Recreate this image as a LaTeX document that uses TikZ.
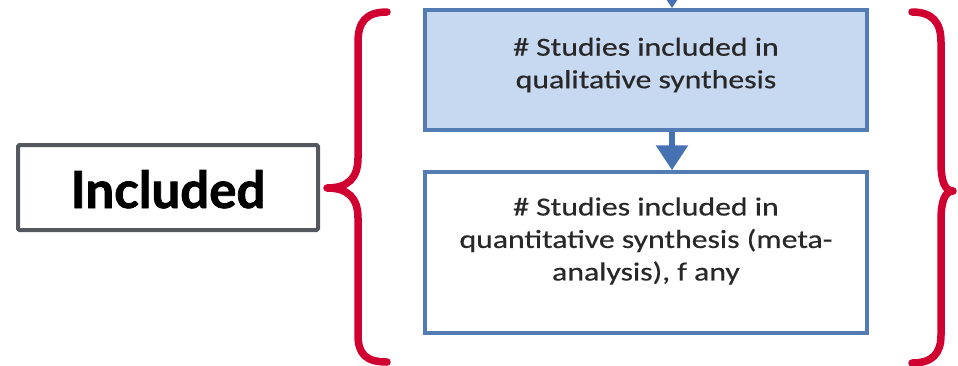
\documentclass[tikz,border=0pt]{standalone}
\usepackage{fontspec}
\usetikzlibrary{arrows.meta}
\newfontfamily\labelfont[FakeBold=1.5]{Lato}
\newfontfamily\boxfont[FakeStretch=1.22,FakeBold=0.5]{Carlito}
\definecolor{bracered}{RGB}{208,0,48}
\definecolor{boxblue}{RGB}{84,124,180}
\definecolor{boxfill}{RGB}{198,217,241}
\definecolor{arrowblue}{RGB}{70,114,180}
\definecolor{framegray}{RGB}{85,88,94}
\definecolor{textgray}{RGB}{40,40,40}
\tikzset{
  flowbox/.style={draw=boxblue, line width=3.5pt, inner sep=0pt},
  boxtext/.style={font=\boxfont\fontsize{26}{32.5}\selectfont, text=textgray, align=center, inner sep=0pt},
  flowarrow/.style={draw=arrowblue, line width=6pt, -{Triangle[width=31pt,length=25pt]}},
  brace/.style={draw=bracered, line width=7.5pt, line cap=round, line join=round},
  labelbox/.style={draw=framegray, line width=4pt, rounded corners=1.5pt, fill=white, inner sep=0pt},
}
\begin{document}
\begin{tikzpicture}[x=1pt,y=-1pt]
\useasboundingbox (0,0) rectangle (958,365);
\clip (0,0) rectangle (958,365);
% flow boxes
\node[flowbox, fill=boxfill, minimum width=442pt, minimum height=120pt] (qual) at (646,70) {};
\node[flowbox, fill=white, minimum width=442pt, minimum height=161pt] (quant) at (646,252.5) {};
\node[boxtext] (qualtext) at (646,65) {\# Studies included in\\qualitative synthesis};
\node[boxtext] (quanttext) at (646,241) {\# Studies included in\\quantitative synthesis (meta-\\analysis), f any};
% arrows
\coordinate (topin) at (672,-30);
\draw[flowarrow] (topin) -- (topin |- qual.north);
\draw[flowarrow] (qual.south -| topin) -- (quant.north -| topin);
% label box
\node[labelbox, minimum width=300pt, minimum height=85pt] (incl) at (168,187.5) {};
\node[font=\labelfont\bfseries\fontsize{51}{51}\selectfont, inner sep=0pt, anchor=base] (incltext) at (168,208) {Included};
% braces
\draw[brace] (387,12) .. controls (366,12) and (358,22) .. (358,42) -- (358,158)
  .. controls (358,178) and (348,188) .. (327,188)
  .. controls (348,188) and (358,198) .. (358,218) -- (358,335)
  .. controls (358,354) and (366,362) .. (387,362);
\draw[brace] (912,12) .. controls (932,12) and (941,22) .. (941,42) -- (941,162)
  .. controls (941,182) and (945,191) .. (953,191)
  .. controls (945,191) and (941,201) .. (941,220) -- (941,335)
  .. controls (941,354) and (932,363) .. (912,363);
\end{tikzpicture}
\end{document}
